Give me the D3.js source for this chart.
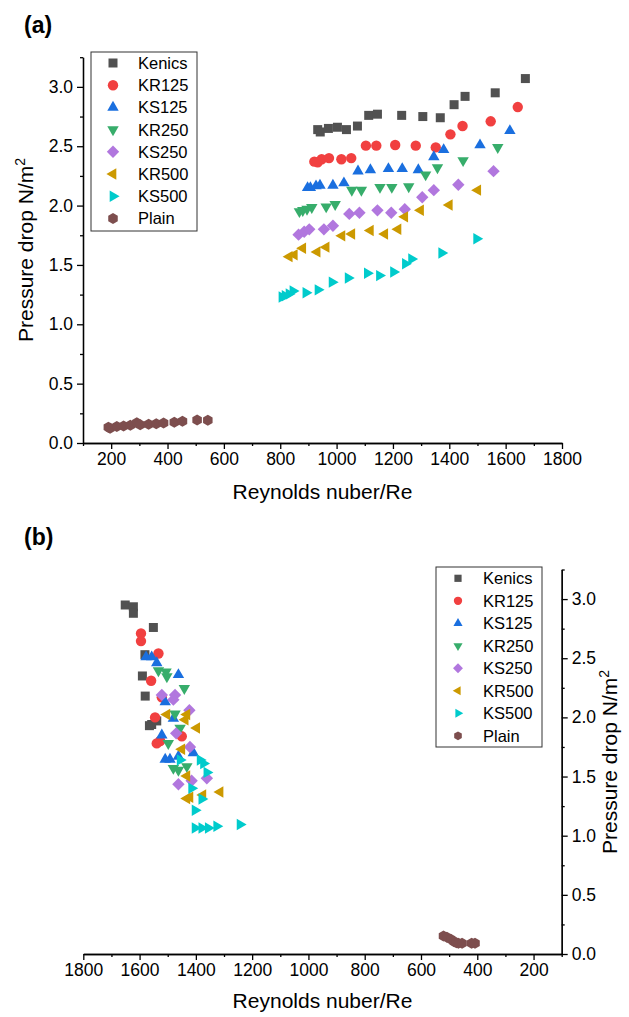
<!DOCTYPE html>
<html>
<head>
<meta charset="utf-8">
<script src="https://cdn.jsdelivr.net/npm/d3@7"></script>
<style>
  body { margin: 0; background: #fff; }
  svg { font-family: "Liberation Sans", Arial, sans-serif; }
  .axis path, .axis line { stroke: #000; stroke-width: 1.3; }
  .axis text { font-size: 17.5px; fill: #000; }
</style>
</head>
<body>
<div id="holder"></div>
<script>
// series names and colours (legend order)
const seriesNames = ["Kenics", "KR125", "KS125", "KR250", "KS250", "KR500", "KS500", "Plain"];
const seriesColors = ["#515151", "#F14040", "#1A6FDF", "#37AD6B", "#B177DE", "#CC9900", "#00CBCC", "#7D4E4E"];
const seriesShapes = ["square", "circle", "up", "down", "diamond", "left", "right", "hexagon"];

// panel (a): [Re, pressure drop]
const kenicsA = [[933,2.64],[942,2.62],[971,2.65],[1003,2.66],[1035,2.64],[1074,2.67],[1114,2.76],[1145,2.77],[1231,2.76],[1306,2.75],[1368,2.74],[1417,2.85],[1456,2.92],[1563,2.95],[1670,3.07]];
const kr125A = [[921,2.37],[933,2.365],[947,2.39],[973,2.40],[1017,2.39],[1052,2.40],[1104,2.505],[1141,2.505],[1208,2.51],[1281,2.505],[1352,2.49],[1404,2.60],[1447,2.67],[1547,2.71],[1643,2.83]];
const ks125A = [[897,2.15],[907,2.15],[927,2.165],[941,2.17],[987,2.17],[1026,2.19],[1076,2.29],[1120,2.30],[1184,2.31],[1233,2.31],[1290,2.30],[1345,2.41],[1380,2.47],[1509,2.51],[1615,2.63]];
const kr250A = [[868,1.95],[880,1.96],[895,1.97],[912,1.985],[963,1.99],[995,2.01],[1054,2.13],[1088,2.13],[1154,2.155],[1196,2.155],[1256,2.16],[1316,2.26],[1358,2.32],[1449,2.38],[1572,2.49]];
const ks250A = [[865,1.755],[885,1.78],[903,1.80],[955,1.80],[987,1.83],[1045,1.93],[1081,1.94],[1145,1.96],[1194,1.94],[1242,1.97],[1304,2.07],[1345,2.13],[1432,2.175],[1557,2.29]];
const kr500A = [[832,1.57],[850,1.585],[880,1.64],[931,1.61],[963,1.65],[1019,1.745],[1054,1.76],[1120,1.79],[1171,1.76],[1218,1.80],[1242,1.905],[1298,1.96],[1400,2.005],[1501,2.13]];
const ks500A = [[806,1.23],[817,1.24],[831,1.255],[845,1.28],[891,1.265],[934,1.29],[984,1.355],[1041,1.39],[1109,1.43],[1152,1.41],[1202,1.44],[1244,1.51],[1266,1.55],[1373,1.60],[1497,1.72]];
const plainA = [[190,0.132],[196,0.124],[220,0.138],[244,0.143],[268,0.149],[291,0.171],[303,0.154],[333,0.157],[360,0.162],[386,0.168],[424,0.174],[453,0.183],[505,0.194],[543,0.192]];

// panel (b): [Re, pressure drop]
const kenicsB = [[1651,2.95],[1622,2.935],[1622,2.88],[1551,2.76],[1581,2.53],[1590,2.35],[1580,2.18],[1539,1.97],[1565,1.93],[1557,1.94]];
const kr125B = [[1595,2.71],[1595,2.645],[1533,2.54],[1559,2.31],[1521,2.17],[1545,2.00],[1450,1.84],[1539,1.78],[1527,1.80]];
const ks125B = [[1577,2.51],[1557,2.51],[1539,2.46],[1462,2.36],[1509,2.13],[1480,1.99],[1521,1.85],[1409,1.70],[1509,1.645],[1492,1.645],[1462,1.67]];
const kr250B = [[1533,2.395],[1503,2.345],[1506,2.385],[1441,2.245],[1474,2.03],[1456,1.91],[1498,1.78],[1480,1.57],[1462,1.555],[1432,1.585]];
const ks250B = [[1521,2.19],[1474,2.19],[1480,2.15],[1423,2.06],[1470,1.865],[1421,1.75],[1361,1.485],[1462,1.435],[1415,1.465]];
const kr500B = [[1503,2.025],[1432,2.025],[1438,1.98],[1397,1.91],[1450,1.73],[1432,1.505],[1314,1.37],[1432,1.315],[1421,1.325],[1375,1.345]];
const ks500B = [[1456,1.64],[1385,1.64],[1373,1.61],[1361,1.535],[1415,1.40],[1379,1.31],[1403,1.215],[1403,1.065],[1379,1.065],[1356,1.065],[1326,1.08],[1243,1.095]];
const plainB = [[520,0.152],[508,0.141],[494,0.124],[482,0.104],[474,0.095],[467,0.09],[454,0.09],[420,0.09],[408,0.09]];

const seriesA = [kenicsA, kr125A, ks125A, kr250A, ks250A, kr500A, ks500A, plainA];
const seriesB = [kenicsB, kr125B, ks125B, kr250B, ks250B, kr500B, ks500B, plainB];

const yTicks = [0, 0.5, 1.0, 1.5, 2.0, 2.5, 3.0];
const yMinor = [0.25, 0.75, 1.25, 1.75, 2.25, 2.75, 3.25];
const xTicks = [200, 400, 600, 800, 1000, 1200, 1400, 1600, 1800];
const xMinor = [100, 300, 500, 700, 900, 1100, 1300, 1500, 1700];

const width = 629, height = 1017;

const svg = d3.select("#holder").append("svg")
  .attr("width", width)
  .attr("height", height);

// marker path centred at 0,0
function markerPath(shape, s) {
  const p = d3.path();
  if (shape === "square") {
    const h = s * 0.45;
    p.rect(-h, -h, 2 * h, 2 * h);
  } else if (shape === "circle") {
    p.arc(0, 0, s * 0.52, 0, 2 * Math.PI);
  } else if (shape === "diamond") {
    const h = s * 0.62;
    p.moveTo(0, -h); p.lineTo(h, 0); p.lineTo(0, h); p.lineTo(-h, 0); p.closePath();
  } else if (shape === "hexagon") {
    const r = s * 0.55;
    for (let i = 0; i < 6; i++) {
      const a = Math.PI / 6 + i * Math.PI / 3;
      if (i === 0) p.moveTo(r * Math.cos(a), r * Math.sin(a));
      else p.lineTo(r * Math.cos(a), r * Math.sin(a));
    }
    p.closePath();
  } else {
    // triangles, pointing in given direction
    const r = s * 0.66;
    const dir = {up: -Math.PI / 2, down: Math.PI / 2, left: Math.PI, right: 0}[shape];
    for (let i = 0; i < 3; i++) {
      const a = dir + i * 2 * Math.PI / 3;
      if (i === 0) p.moveTo(r * Math.cos(a), r * Math.sin(a));
      else p.lineTo(r * Math.cos(a), r * Math.sin(a));
    }
    p.closePath();
  }
  return p.toString();
}

function drawPanel(cfg) {
  const g = svg.append("g");
  const x = d3.scaleLinear().domain(cfg.xDomain).range(cfg.xRange);
  const y = d3.scaleLinear().domain([0, 3.25]).range(cfg.yRange);

  // x axis
  g.append("g").attr("class", "axis")
    .attr("transform", `translate(0,${cfg.yRange[0]})`)
    .call(d3.axisBottom(x).tickValues(xMinor).tickSize(3).tickFormat("").tickSizeOuter(0));
  g.append("g").attr("class", "axis")
    .attr("transform", `translate(0,${cfg.yRange[0]})`)
    .call(d3.axisBottom(x).tickValues(xTicks).tickSize(6).tickPadding(4).tickFormat(d3.format("d")).tickSizeOuter(0));

  // y axis
  const yAx = cfg.rightAxis ? d3.axisRight : d3.axisLeft;
  g.append("g").attr("class", "axis")
    .attr("transform", `translate(${cfg.yAxisX},0)`)
    .call(yAx(y).tickValues(yMinor).tickSize(3).tickFormat("").tickSizeOuter(0));
  g.append("g").attr("class", "axis")
    .attr("transform", `translate(${cfg.yAxisX},0)`)
    .call(yAx(y).tickValues(yTicks).tickSize(6).tickPadding(4).tickFormat(d3.format(".1f")).tickSizeOuter(0));

  // points
  cfg.data.forEach((pts, i) => {
    g.append("g").selectAll("path")
      .data(pts)
      .enter()
      .append("path")
      .attr("d", markerPath(seriesShapes[i], 10))
      .attr("transform", d => `translate(${x(d[0])},${y(d[1])})`)
      .attr("fill", seriesColors[i]);
  });

  // axis titles
  g.append("text")
    .attr("x", (cfg.xRange[0] + cfg.xRange[1]) / 2)
    .attr("y", cfg.xTitleY)
    .attr("text-anchor", "middle")
    .attr("font-size", 21)
    .text("Reynolds nuber/Re");

  const yt = g.append("text")
    .attr("transform", `translate(${cfg.yTitleX},${cfg.yTitleY}) rotate(-90)`)
    .attr("text-anchor", "middle")
    .attr("font-size", 21);
  yt.append("tspan").text("Pressure drop N/m");
  yt.append("tspan").attr("font-size", 14).attr("dy", -8).text("2");

  // panel label
  g.append("text")
    .attr("x", 24)
    .attr("y", cfg.labelY)
    .attr("font-size", 23)
    .attr("font-weight", "bold")
    .text(cfg.label);

  // legend
  const lg = g.append("g");
  lg.append("rect")
    .attr("x", cfg.legend.x).attr("y", cfg.legend.y)
    .attr("width", cfg.legend.w).attr("height", cfg.legend.h)
    .attr("fill", "#fff").attr("stroke", "#333").attr("stroke-width", 1);
  seriesNames.forEach((name, i) => {
    const cy = cfg.legend.y0 + i * cfg.legend.step;
    lg.append("path")
      .attr("d", markerPath(seriesShapes[i], cfg.legend.ms))
      .attr("transform", `translate(${cfg.legend.mx},${cy})`)
      .attr("fill", seriesColors[i]);
    lg.append("text")
      .attr("x", cfg.legend.tx).attr("y", cy + 6)
      .attr("font-size", 16.5)
      .text(name);
  });
}

drawPanel({
  label: "(a)", labelY: 33,
  xDomain: [100, 1800], xRange: [83, 562],
  yRange: [443, 57.2], yAxisX: 83, rightAxis: false,
  data: seriesA,
  xTitleY: 499, yTitleX: 33, yTitleY: 250,
  legend: {x: 91, y: 52, w: 106, h: 179, y0: 63, step: 22.2, mx: 113, tx: 138, ms: 10}
});

drawPanel({
  label: "(b)", labelY: 545,
  xDomain: [1800, 100], xRange: [83.3, 561.7],
  yRange: [954, 569.5], yAxisX: 561.7, rightAxis: true,
  data: seriesB,
  xTitleY: 1008, yTitleX: 617, yTitleY: 762,
  legend: {x: 436, y: 567, w: 106, h: 180, y0: 578.3, step: 22.5, mx: 458, tx: 483, ms: 8}
});
</script>
</body>
</html>
